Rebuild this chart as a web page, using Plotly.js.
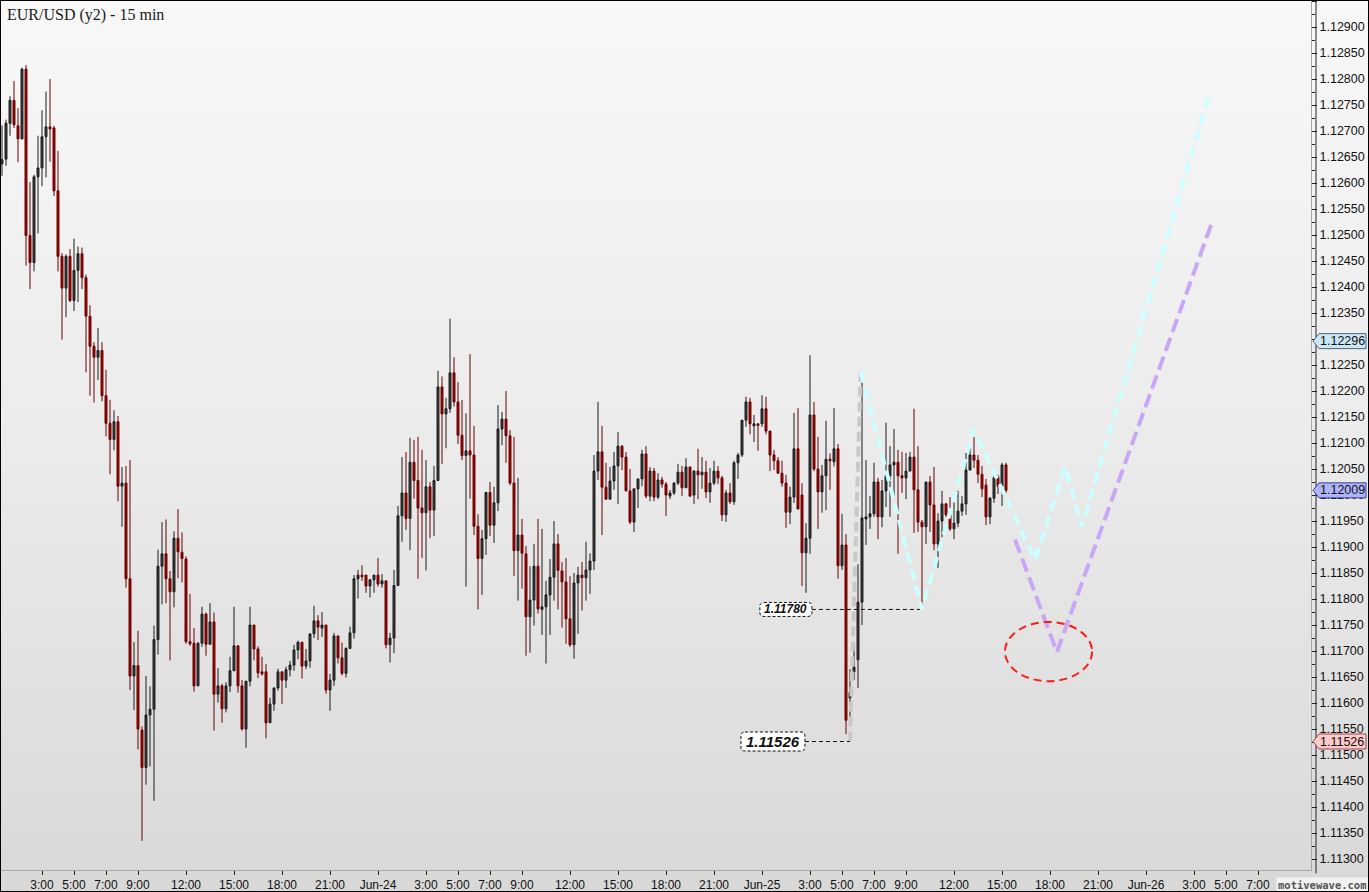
<!DOCTYPE html>
<html><head><meta charset="utf-8">
<script src="https://cdn.plot.ly/plotly-3.0.1.min.js"></script>
<style>
html,body{margin:0;padding:0;background:#fff;}
#wrap{position:absolute;left:0;top:0;width:1369px;height:892px;background:linear-gradient(to bottom,#f8f8f8 0%,#ebebeb 50%,#d8d8d8 100%);}
#chart{position:absolute;left:0;top:0;width:1369px;height:892px;}
#frame{position:absolute;left:0;top:0;width:1367px;height:890px;border:1px solid #000;pointer-events:none;}
</style></head>
<body><div id="wrap"><div id="chart"></div><div id="frame"></div></div>
<script>
// ---- bar timing (15-minute bars, first bar Jun-23 00:30) ----
const FIRST_BAR = '2015-06-23T00:30:00Z';
const BAR_MINUTES = 15;

// ---- OHLC values ----
const openP = [
1.12637,1.12646,1.12715,1.12759,1.12710,1.12685,1.12819,1.12499,1.12447,1.12612,
1.12629,1.12689,1.12708,1.12706,1.12585,1.12459,1.12398,1.12459,1.12374,1.12432,
1.12464,1.12418,1.12344,1.12286,1.12265,1.12278,1.12191,1.12138,1.12107,1.12141,
1.12017,1.12023,1.11839,1.11652,1.11672,1.11548,1.11476,1.11577,1.11588,1.11722,
1.11863,1.11887,1.11839,1.11814,1.11917,1.11890,1.11877,1.11718,1.11715,1.11633,
1.11715,1.11771,1.11713,1.11756,1.11617,1.11633,1.11589,1.11633,1.11662,1.11710,
1.11633,1.11550,1.11642,1.11750,1.11704,1.11660,1.11660,1.11562,1.11598,1.11629,
1.11660,1.11644,1.11664,1.11673,1.11702,1.11717,1.11671,1.11681,1.11733,1.11758,
1.11744,1.11750,1.11625,1.11644,1.11729,1.11687,1.11657,1.11705,1.11735,1.11839,
1.11846,1.11846,1.11825,1.11837,1.11846,1.11829,1.11835,1.11712,1.11725,1.11826,
1.11960,1.12004,1.11955,1.12063,1.12028,1.11975,1.11966,1.12016,1.11971,1.12028,
1.12208,1.12156,1.12166,1.12235,1.12179,1.12115,1.12076,1.12085,1.12077,1.11940,
1.11878,1.11916,1.12005,1.11942,1.11985,1.12127,1.12146,1.12114,1.12023,1.11893,
1.11923,1.11887,1.11766,1.11798,1.11863,1.11780,1.11785,1.11808,1.11842,1.11906,
1.11854,1.11833,1.11762,1.11712,1.11831,1.11846,1.11841,1.11856,1.11873,1.12046,
1.12083,1.12015,1.11992,1.12027,1.12056,1.12094,1.12073,1.12008,1.11948,1.12012,
1.12031,1.12079,1.11998,1.12046,1.11996,1.12029,1.12021,1.11998,1.12004,1.12023,
1.12044,1.12014,1.12054,1.12000,1.12046,1.12039,1.12044,1.12006,1.12023,1.12046,
1.12033,1.11962,1.12004,1.11987,1.12062,1.12077,1.12144,1.12179,1.12133,1.12137,
1.12137,1.12166,1.12123,1.12077,1.12066,1.12042,1.12023,1.11967,1.11996,1.12089,
1.12000,1.11889,1.11917,1.12154,1.12050,1.12006,1.12037,1.12069,1.12064,1.12089,
1.11864,1.11904,1.11610,1.11660,1.11683,1.11794,1.11954,1.11958,1.11964,1.12025,
1.11958,1.12008,1.12037,1.12058,1.12063,1.12037,1.12033,1.12046,1.12073,1.12010,
1.11948,1.11939,1.12025,1.11981,1.11906,1.11950,1.11983,1.11962,1.11935,1.11946,
1.11969,1.11983,1.12048,1.12077,1.12067,1.12040,1.12019,1.11958,1.11994,1.12035,
1.12017,1.12058];
const highP = [
1.12711,1.12722,1.12767,1.12796,1.12744,1.12822,1.12827,1.12602,1.12616,1.12691,
1.12740,1.12776,1.12800,1.12710,1.12662,1.12465,1.12463,1.12473,1.12493,1.12478,
1.12476,1.12424,1.12365,1.12294,1.12321,1.12294,1.12241,1.12183,1.12163,1.12152,
1.12054,1.12056,1.12067,1.11717,1.11739,1.11555,1.11652,1.11632,1.11749,1.11895,
1.11948,1.11953,1.11854,1.11930,1.11973,1.11928,1.11882,1.11810,1.11744,1.11717,
1.11785,1.11774,1.11792,1.11774,1.11667,1.11637,1.11640,1.11689,1.11785,1.11710,
1.11644,1.11642,1.11785,1.11750,1.11709,1.11689,1.11675,1.11610,1.11629,1.11666,
1.11660,1.11670,1.11681,1.11712,1.11720,1.11717,1.11704,1.11733,1.11787,1.11769,
1.11775,1.11750,1.11656,1.11735,1.11729,1.11716,1.11707,1.11747,1.11846,1.11856,
1.11865,1.11846,1.11838,1.11846,1.11879,1.11848,1.11835,1.11735,1.11856,1.11979,
1.12073,1.12083,1.12110,1.12106,1.12112,1.12087,1.12067,1.12025,1.12056,1.12239,
1.12228,1.12187,1.12339,1.12265,1.12217,1.12183,1.12157,1.12271,1.12133,1.11963,
1.11933,1.12006,1.12025,1.12016,1.12173,1.12160,1.12200,1.12125,1.12112,1.12033,
1.11954,1.11902,1.11863,1.11906,1.11954,1.11935,1.11835,1.11877,1.11950,1.11925,
1.11871,1.11879,1.11844,1.11850,1.11862,1.11871,1.11910,1.11888,1.12077,1.12179,
1.12133,1.12062,1.12054,1.12083,1.12121,1.12096,1.12083,1.12050,1.12012,1.12031,
1.12087,1.12094,1.12054,1.12052,1.12042,1.12035,1.12025,1.12010,1.12025,1.12060,
1.12056,1.12071,1.12054,1.12048,1.12089,1.12073,1.12066,1.12052,1.12066,1.12056,
1.12037,1.12010,1.12023,1.12066,1.12081,1.12144,1.12189,1.12187,1.12154,1.12137,
1.12192,1.12189,1.12123,1.12087,1.12073,1.12066,1.12039,1.12016,1.12158,1.12167,
1.12023,1.11946,1.12269,1.12179,1.12112,1.12058,1.12143,1.12080,1.12167,1.12098,
1.11964,1.11925,1.11665,1.11714,1.11867,1.12221,1.12067,1.11998,1.12062,1.12033,
1.12029,1.12139,1.12094,1.12127,1.12087,1.12083,1.12081,1.12083,1.12166,1.12094,
1.11952,1.12025,1.12037,1.12054,1.11965,1.12008,1.11985,1.11996,1.12002,1.12008,
1.11998,1.12081,1.12094,1.12112,1.12077,1.12056,1.12031,1.11996,1.12039,1.12039,
1.12062,1.12062];
const lowP = [
1.12614,1.12633,1.12691,1.12706,1.12640,1.12684,1.12441,1.12396,1.12430,1.12503,
1.12594,1.12611,1.12641,1.12575,1.12430,1.12299,1.12342,1.12371,1.12354,1.12371,
1.12396,1.12236,1.12191,1.12178,1.12221,1.12180,1.12113,1.12040,1.12086,1.11988,
1.11939,1.11822,1.11625,1.11586,1.11511,1.11335,1.11443,1.11478,1.11412,1.11693,
1.11790,1.11792,1.11682,1.11784,1.11840,1.11832,1.11714,1.11710,1.11622,1.11633,
1.11708,1.11691,1.11713,1.11547,1.11601,1.11562,1.11582,1.11621,1.11662,1.11620,
1.11547,1.11514,1.11632,1.11682,1.11648,1.11653,1.11532,1.11562,1.11585,1.11624,
1.11598,1.11629,1.11651,1.11662,1.11684,1.11647,1.11665,1.11668,1.11725,1.11721,
1.11727,1.11618,1.11585,1.11633,1.11676,1.11653,1.11649,1.11705,1.11724,1.11801,
1.11835,1.11812,1.11803,1.11812,1.11824,1.11822,1.11705,1.11678,1.11696,1.11826,
1.11910,1.11933,1.11894,1.11993,1.11839,1.11879,1.11855,1.11917,1.11921,1.12028,
1.12060,1.12090,1.12158,1.12170,1.12098,1.12067,1.11824,1.11993,1.11923,1.11780,
1.11808,1.11885,1.11921,1.11908,1.11969,1.12096,1.12062,1.12019,1.11844,1.11797,
1.11820,1.11691,1.11697,1.11749,1.11772,1.11731,1.11676,1.11731,1.11797,1.11780,
1.11745,1.11714,1.11708,1.11685,1.11733,1.11778,1.11797,1.11810,1.11856,1.12029,
1.11923,1.11992,1.11992,1.12010,1.11983,1.12048,1.12008,1.11944,1.11929,1.11975,
1.12017,1.11994,1.11988,1.11988,1.11992,1.12014,1.11960,1.11992,1.12000,1.12019,
1.11998,1.12014,1.11996,1.11983,1.11992,1.12012,1.11994,1.11985,1.12019,1.12021,
1.11950,1.11948,1.11983,1.11981,1.12031,1.12073,1.12131,1.12117,1.12102,1.12085,
1.12131,1.12117,1.12046,1.12048,1.12042,1.12016,1.11937,1.11944,1.11985,1.11973,
1.11825,1.11812,1.11887,1.12046,1.11935,1.11966,1.11971,1.12010,1.12055,1.11839,
1.11856,1.11540,1.11565,1.11644,1.11629,1.11750,1.11904,1.11935,1.11958,1.11915,
1.11938,1.11977,1.11958,1.11996,1.11887,1.12004,1.11992,1.12046,1.11927,1.11929,
1.11787,1.11906,1.11929,1.11894,1.11860,1.11919,1.11958,1.11931,1.11915,1.11938,
1.11960,1.11962,1.12048,1.12052,1.12023,1.11996,1.11942,1.11944,1.11985,1.12002,
1.11979,1.12004];
const closeP = [
1.12645,1.12715,1.12759,1.12712,1.12685,1.12819,1.12499,1.12447,1.12612,1.12629,
1.12689,1.12708,1.12704,1.12585,1.12459,1.12398,1.12459,1.12374,1.12432,1.12464,
1.12418,1.12344,1.12286,1.12265,1.12278,1.12191,1.12138,1.12107,1.12141,1.12017,
1.12023,1.11839,1.11652,1.11672,1.11550,1.11476,1.11577,1.11588,1.11722,1.11863,
1.11887,1.11839,1.11814,1.11917,1.11891,1.11878,1.11718,1.11714,1.11633,1.11715,
1.11771,1.11713,1.11756,1.11617,1.11633,1.11589,1.11633,1.11662,1.11710,1.11633,
1.11550,1.11642,1.11750,1.11704,1.11658,1.11656,1.11562,1.11598,1.11629,1.11660,
1.11644,1.11664,1.11673,1.11702,1.11717,1.11671,1.11681,1.11733,1.11758,1.11746,
1.11750,1.11625,1.11644,1.11729,1.11687,1.11657,1.11705,1.11735,1.11839,1.11846,
1.11843,1.11825,1.11837,1.11846,1.11829,1.11835,1.11712,1.11725,1.11826,1.11960,
1.12004,1.11955,1.12063,1.12028,1.11975,1.11966,1.12016,1.11971,1.12028,1.12208,
1.12156,1.12166,1.12235,1.12179,1.12115,1.12076,1.12085,1.12077,1.11940,1.11878,
1.11916,1.12005,1.11942,1.11985,1.12127,1.12146,1.12114,1.12023,1.11893,1.11923,
1.11888,1.11766,1.11798,1.11863,1.11781,1.11785,1.11808,1.11842,1.11906,1.11855,
1.11833,1.11762,1.11712,1.11831,1.11846,1.11841,1.11856,1.11873,1.12046,1.12083,
1.12015,1.11992,1.12027,1.12056,1.12094,1.12073,1.12008,1.11948,1.12012,1.12031,
1.12079,1.11998,1.12046,1.11996,1.12029,1.12021,1.12000,1.12004,1.12023,1.12044,
1.12014,1.12054,1.11998,1.12046,1.12039,1.12044,1.12006,1.12023,1.12046,1.12033,
1.11962,1.12004,1.11987,1.12062,1.12077,1.12144,1.12179,1.12137,1.12137,1.12134,
1.12166,1.12123,1.12077,1.12066,1.12042,1.12023,1.11967,1.11996,1.12089,1.11973,
1.11889,1.11917,1.12154,1.12050,1.12006,1.12037,1.12069,1.12066,1.12089,1.11864,
1.11904,1.11567,1.11620,1.11669,1.11794,1.11956,1.11958,1.11964,1.12025,1.11958,
1.12008,1.12037,1.12058,1.12063,1.12037,1.12033,1.12046,1.12073,1.12010,1.11948,
1.11939,1.12025,1.11981,1.11906,1.11950,1.11983,1.11962,1.11935,1.11946,1.11969,
1.11983,1.12048,1.12077,1.12067,1.12040,1.12012,1.11958,1.11994,1.12033,1.12017,
1.12058,1.12009];

// ---- axis tick labels ----
const xTickTimes = ['2015-06-23 03:00','2015-06-23 05:00','2015-06-23 07:00','2015-06-23 09:00','2015-06-23 12:00','2015-06-23 15:00','2015-06-23 18:00','2015-06-23 21:00',
 '2015-06-24 00:00','2015-06-24 03:00','2015-06-24 05:00','2015-06-24 07:00','2015-06-24 09:00','2015-06-24 12:00','2015-06-24 15:00','2015-06-24 18:00','2015-06-24 21:00',
 '2015-06-25 00:00','2015-06-25 03:00','2015-06-25 05:00','2015-06-25 07:00','2015-06-25 09:00','2015-06-25 12:00','2015-06-25 15:00','2015-06-25 18:00','2015-06-25 21:00',
 '2015-06-26 00:00','2015-06-26 03:00','2015-06-26 05:00','2015-06-26 07:00'];
const xTickText = ['3:00','5:00','7:00','9:00','12:00','15:00','18:00','21:00',
 'Jun-24','3:00','5:00','7:00','9:00','12:00','15:00','18:00','21:00',
 'Jun-25','3:00','5:00','7:00','9:00','12:00','15:00','18:00','21:00',
 'Jun-26','3:00','5:00','7:00'];

// ---- drawings on the chart ----
const waveGrayTimes = ['2015-06-25 05:30','2015-06-25 06:10'];
const waveGrayPrices = [1.11526, 1.12237];
const waveCyanTimes = ['2015-06-25 06:10','2015-06-25 10:00','2015-06-25 13:15','2015-06-25 17:04','2015-06-25 18:56','2015-06-25 20:00','2015-06-26 04:00'];
const waveCyanPrices = [1.12237, 1.11780, 1.12126, 1.11875, 1.12054, 1.11939, 1.12775];
const wavePurpleTimes = ['2015-06-25 15:49','2015-06-25 18:26','2015-06-26 04:08'];
const wavePurplePrices = [1.11914, 1.11698, 1.12525];
const ellipseTimes = ['2015-06-25 15:11','2015-06-25 20:38'];
const ellipsePrices = [1.11642, 1.11756];
const levelLabels = ['1.11780','1.11526'];
const levelPrices = [1.11780, 1.11526];
const levelStart = ['2015-06-25 03:07','2015-06-25 02:41'];
const levelEnd = ['2015-06-25 10:00','2015-06-25 05:30'];
const axisMarkPrices = [1.12296, 1.12009, 1.11526];
const axisMarkText = ['1.12296','1.12009','1.11526'];

// ---- build bar times ----
function fmt(ms){const d=new Date(ms);const p=n=>String(n).padStart(2,'0');
 return d.getUTCFullYear()+'-'+p(d.getUTCMonth()+1)+'-'+p(d.getUTCDate())+' '+p(d.getUTCHours())+':'+p(d.getUTCMinutes());}
const t0 = Date.parse(FIRST_BAR);
const barTimes = openP.map((_,i)=>fmt(t0 + i*BAR_MINUTES*60000));

const traces = [];
traces.push({type:'candlestick', x:barTimes, open:openP, high:highP, low:lowP, close:closeP,
  increasing:{line:{color:'#1c1c1c',width:1}, fillcolor:'#3a3a3a'},
  decreasing:{line:{color:'#6a0000',width:1}, fillcolor:'#a00000'},
  whiskerwidth:0, hoverinfo:'skip', showlegend:false});
traces.push({type:'scatter', mode:'lines', x:waveGrayTimes, y:waveGrayPrices,
  line:{color:'#c9c9c9', width:4, dash:'10px,5px'}, hoverinfo:'skip', showlegend:false});
for (let k=0;k<levelPrices.length;k++){
  traces.push({type:'scatter', mode:'lines', x:[levelStart[k],levelEnd[k]], y:[levelPrices[k],levelPrices[k]],
    line:{color:'#111', width:1, dash:'4px,3px'}, hoverinfo:'skip', showlegend:false});
}
traces.push({type:'scatter', mode:'lines', x:waveCyanTimes, y:waveCyanPrices,
  line:{color:'#ccffff', width:4, dash:'11px,6px'}, hoverinfo:'skip', showlegend:false});
traces.push({type:'scatter', mode:'lines', x:wavePurpleTimes, y:wavePurplePrices,
  line:{color:'#c8a8f6', width:4, dash:'14px,6px'}, hoverinfo:'skip', showlegend:false});

const shapes = [];
shapes.push({type:'circle', xref:'x', yref:'y', x0:ellipseTimes[0], x1:ellipseTimes[1], y0:ellipsePrices[0], y1:ellipsePrices[1],
  line:{color:'#ff1a1a', width:2, dash:'8px,5px'}, layer:'above'});
// dark axis line right of plot border
shapes.push({type:'line', xref:'paper', yref:'paper', x0:1+5/1310, x1:1+5/1310, y0:-0.004, y1:1.01, line:{color:'#222', width:1}});

const annotations = [];
const labelBox = [{w:52,h:14,size:12},{w:64,h:19,size:15}];
for (let k=0;k<levelPrices.length;k++){
  const b = labelBox[k];
  shapes.push({type:'path', xref:'x', yref:'y', xsizemode:'pixel', ysizemode:'pixel', xanchor:levelStart[k], yanchor:levelPrices[k],
    path:`M -${b.w-4} ${b.h/2} L -4 ${b.h/2} Q 0 ${b.h/2} 0 ${b.h/2-4} L 0 -${b.h/2-4} Q 0 -${b.h/2} -4 -${b.h/2} L -${b.w-4} -${b.h/2} Q -${b.w} -${b.h/2} -${b.w} -${b.h/2-4} L -${b.w} ${b.h/2-4} Q -${b.w} ${b.h/2} -${b.w-4} ${b.h/2} Z`,
    fillcolor:'#ffffff', line:{color:'#111', width:1, dash:'3px,2px'}, layer:'above'});
  annotations.push({x:levelStart[k], y:levelPrices[k], xref:'x', yref:'y', text:'<b><i>'+levelLabels[k]+'</i></b>',
    showarrow:false, xanchor:'center', yanchor:'middle', xshift:-b.w/2, font:{family:'Liberation Sans, Arial, sans-serif', size:b.size, color:'#111'}});
}
const markFill = ['#cbe7f5','#aeb4fb','#ffcaca'];
const markLine = ['#4a6878','#3a3aa0','#a04848'];
for (let k=0;k<axisMarkPrices.length;k++){
  shapes.push({type:'path', xref:'paper', yref:'y', xsizemode:'pixel', ysizemode:'pixel', xanchor:1, yanchor:axisMarkPrices[k],
    path:'M 2 0 L 8 7.5 L 55 7.5 L 55 -7.5 L 8 -7.5 Z', fillcolor:markFill[k], line:{color:markLine[k], width:1}, layer:'above'});
  annotations.push({x:1, y:axisMarkPrices[k], xref:'paper', yref:'y', text:axisMarkText[k], showarrow:false,
    xanchor:'left', yanchor:'middle', xshift:7, font:{family:'Liberation Sans, Arial, sans-serif', size:12.5, color:'#111'}});
}
annotations.push({x:(1322-1)/1310, y:(870-885)/869, xref:'paper', yref:'paper', text:'<b>motivewave.com</b>', showarrow:false,
  xanchor:'center', yanchor:'middle', bgcolor:'#f2f2f2', borderpad:1,
  font:{family:'DejaVu Sans Mono, monospace', size:10.5, color:'#555'}});

const layout = {
  width:1369, height:892,
  margin:{l:1, r:58, t:1, b:22, pad:0},
  paper_bgcolor:'rgba(0,0,0,0)', plot_bgcolor:'rgba(0,0,0,0)',
  title:{text:'EUR/USD (y2) - 15 min', xref:'container', yref:'container', x:7/1369, xanchor:'left', y:1-14/892, yanchor:'middle',
    font:{family:'Liberation Serif, Times New Roman, serif', size:16, color:'#1a1a1a'}},
  showlegend:false,
  xaxis:{type:'date', range:['2015-06-23 00:26:15','2015-06-26 10:18:45'], rangeslider:{visible:false},
    tickmode:'array', tickvals:xTickTimes, ticktext:xTickText, ticks:'outside', ticklen:4, tickcolor:'#222',
    showline:true, linecolor:'#a9a99b', linewidth:1, showgrid:false, zeroline:false,
    tickfont:{family:'Liberation Sans, Arial, sans-serif', size:12, color:'#111'}, fixedrange:true},
  yaxis:{side:'right', range:[1.112789, 1.129501], tickmode:'linear', tick0:1.113, dtick:0.0005, tickformat:'.5f',
    ticks:'outside', ticklen:5, tickcolor:'#222', showline:true, linecolor:'#a9a99b', linewidth:1,
    showgrid:false, zeroline:false, minor:{dtick:0.00025, ticks:'outside', ticklen:3, tickcolor:'#222'},
    tickfont:{family:'Liberation Sans, Arial, sans-serif', size:12.5, color:'#111'}, fixedrange:true},
  shapes:shapes, annotations:annotations
};
Plotly.newPlot('chart', traces, layout, {displayModeBar:false, staticPlot:true});
</script></body></html>
